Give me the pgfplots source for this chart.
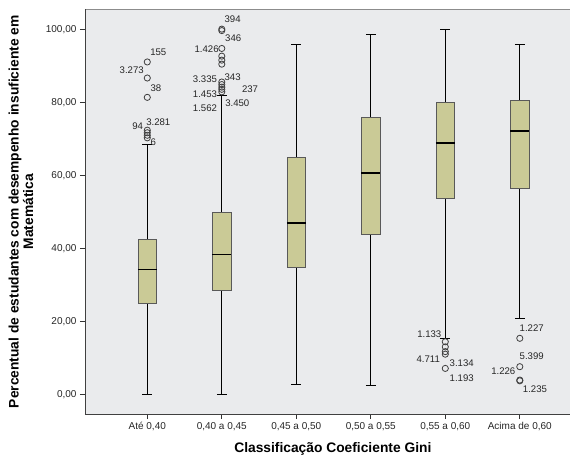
\documentclass[border=0pt]{standalone}
\usepackage{pgfplots}
\pgfplotsset{compat=1.18}
\usepgfplotslibrary{statistics}
\usepackage{fontspec}
\setmainfont{Liberation Sans}
\definecolor{bgcol}{RGB}{234,235,237}
\definecolor{boxcol}{RGB}{202,202,150}
\tikzset{lab/.style={font=\fontsize{9.6}{11}\selectfont, text=black!85, inner sep=0pt}}
\pgfplotsset{omark/.style={only marks, mark=o, mark size=3.1pt, mark options={draw=black!75, line width=0.8pt}}}
\begin{document}
\begin{tikzpicture}
\begin{axis}[
  scale only axis, width=485pt, height=404.5pt,
  xmin=-0.836, xmax=5.674, ymin=-5.4, ymax=105.48,
  axis on top,
  axis x line*=bottom, axis y line*=left,
  axis line style={black!75, line width=0.9pt},
  xtick={0,1,2,3,4,5},
  xticklabels={{Até 0,40},{0,40 a 0,45},{0,45 a 0,50},{0,50 a 0,55},{0,55 a 0,60},{Acima de 0,60}},
  ytick={0,20,40,60,80,100},
  yticklabel style={/pgf/number format/fixed, /pgf/number format/fixed zerofill, /pgf/number format/precision=2, /pgf/number format/use comma, /pgf/number format/assume math mode=true},
  tick style={black!80, line width=0.7pt}, major tick length=5pt, tick align=outside,
  xtick pos=bottom, ytick pos=left,
  ticklabel style={font=\fontsize{10}{12}\selectfont, text=black!85},
  xlabel={Classificação Coeficiente Gini},
  xlabel style={font=\fontsize{13.8}{15}\selectfont\bfseries, at={(axis description cs:0.511,-0.0865)}, anchor=center},
  ylabel={Percentual de estudantes com desempenho insuficiente em\\Matemática},
  ylabel style={align=center, font=\fontsize{13.8}{14.5}\selectfont\bfseries, at={(axis description cs:-0.132,0.5)}, anchor=center},
  clip=false,
  boxplot/draw direction=y,
  boxplot/every box/.style={draw=black!65, fill=boxcol, line width=0.8pt},
  boxplot/every median/.style={draw=black, line width=1.8pt},
  boxplot/every whisker/.style={draw=black, line width=1pt},
]
\fill[bgcol] (rel axis cs:0,0) rectangle (rel axis cs:1,1);
\draw[black!45, line width=1.3pt] (rel axis cs:0,1) -- (rel axis cs:1,1);

\addplot[boxplot prepared={draw position=0, lower whisker=0, lower quartile=25.0, median=34.2, upper quartile=42.5, upper whisker=68.6, box extend=0.25, whisker extend=0.13}] coordinates {};
\addplot[boxplot prepared={draw position=1, lower whisker=0, lower quartile=28.6, median=38.3, upper quartile=49.8, upper whisker=82.0, box extend=0.25, whisker extend=0.13}] coordinates {};
\addplot[boxplot prepared={draw position=2, lower whisker=2.8, lower quartile=34.8, median=47.0, upper quartile=64.9, upper whisker=96.0, box extend=0.25, whisker extend=0.13}] coordinates {};
\addplot[boxplot prepared={draw position=3, lower whisker=2.3, lower quartile=43.8, median=60.7, upper quartile=75.9, upper whisker=98.7, box extend=0.25, whisker extend=0.13}] coordinates {};
\addplot[boxplot prepared={draw position=4, lower whisker=15.4, lower quartile=53.6, median=68.9, upper quartile=79.9, upper whisker=99.9, box extend=0.25, whisker extend=0.13}] coordinates {};
\addplot[boxplot prepared={draw position=5, lower whisker=20.8, lower quartile=56.4, median=72.1, upper quartile=80.6, upper whisker=95.8, box extend=0.25, whisker extend=0.13}] coordinates {};

% outliers
\addplot[omark] coordinates {(0,91.1) (0,86.7) (0,81.4) (0,72.4) (0,71.7) (0,71.0) (0,70.3)};
\addplot[omark] coordinates {(1,100.1) (1,99.7) (1,94.8) (1,92.7) (1,91.6) (1,90.5) (1,85.6) (1,84.9) (1,84.2) (1,83.6) (1,82.9)};
\addplot[omark] coordinates {(4,14.4) (4,13.0) (4,11.7) (4,11.0) (4,7.1)};
\addplot[omark] coordinates {(5,15.35) (5,7.57) (5,3.9) (5,3.7)};

% outlier labels
\node[lab] at (axis cs:0.148,93.75) {155};
\node[lab] at (axis cs:-0.209,88.9) {3.273};
\node[lab] at (axis cs:0.117,84.0) {38};
\node[lab] at (axis cs:0.148,74.7) {3.281};
\node[lab] at (axis cs:-0.129,73.4) {94};
\node[lab] at (axis cs:0.081,69.0) {6};

\node[lab] at (axis cs:1.146,102.8) {394};
\node[lab] at (axis cs:1.154,97.75) {346};
\node[lab] at (axis cs:0.797,94.65) {1.426};
\node[lab] at (axis cs:0.774,86.3) {3.335};
\node[lab] at (axis cs:1.146,87.06) {343};
\node[lab] at (axis cs:1.379,83.6) {237};
\node[lab] at (axis cs:0.774,82.2) {1.453};
\node[lab] at (axis cs:1.208,79.9) {3.450};
\node[lab] at (axis cs:0.774,78.4) {1.562};

\node[lab] at (axis cs:3.785,16.45) {1.133};
\node[lab] at (axis cs:3.772,9.6) {4.711};
\node[lab] at (axis cs:4.22,8.5) {3.134};
\node[lab] at (axis cs:4.22,4.39) {1.193};

\node[lab] at (axis cs:5.16,18.26) {1.227};
\node[lab] at (axis cs:5.16,10.5) {5.399};
\node[lab] at (axis cs:4.779,6.2) {1.226};
\node[lab] at (axis cs:5.204,1.37) {1.235};
\end{axis}
\pgfresetboundingbox
\path[use as bounding box] (-85pt,-47pt) rectangle (485pt,414pt);
\end{tikzpicture}
\end{document}
